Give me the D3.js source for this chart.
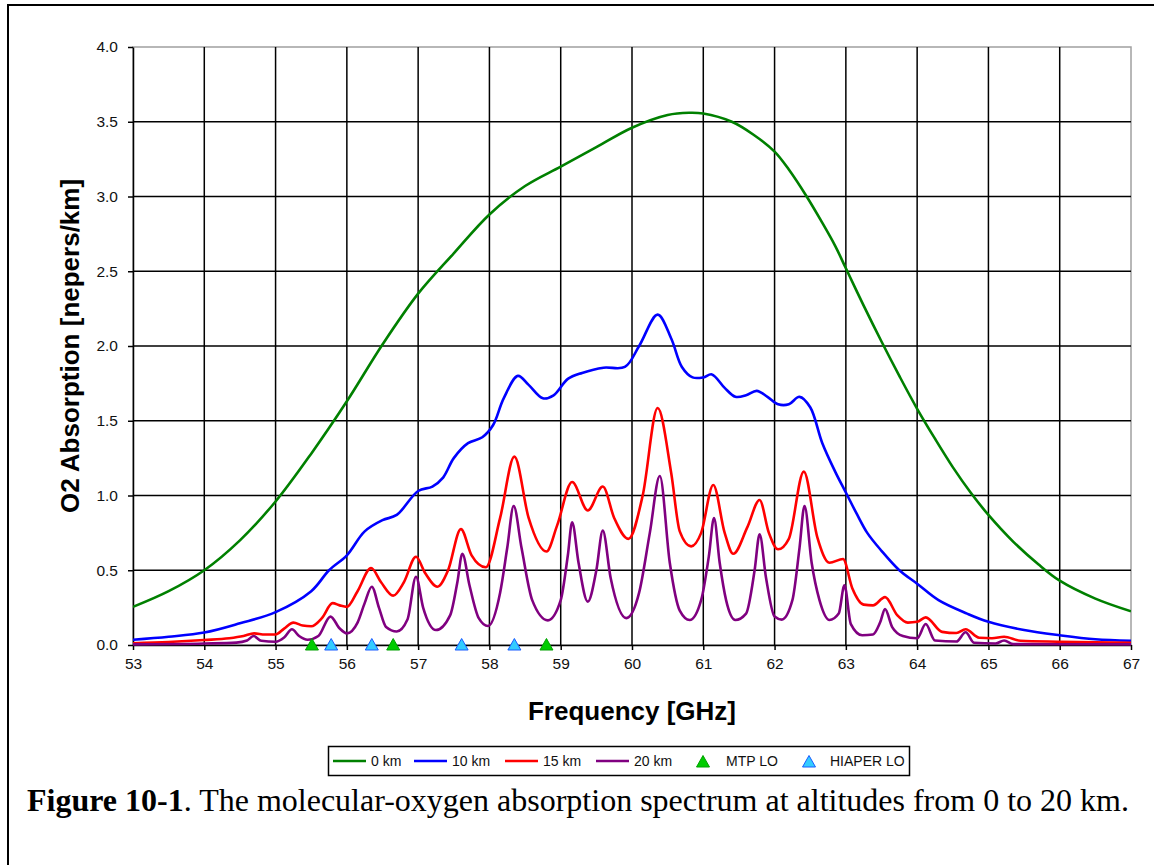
<!DOCTYPE html>
<html>
<head>
<meta charset="utf-8">
<script src="https://cdn.jsdelivr.net/npm/d3@7/dist/d3.min.js"></script>
<style>
body { margin: 0; background: #fff; }
svg { display: block; }
</style>
</head>
<body>
<svg id="chart" width="1154" height="865"></svg>
<script>
// values (GHz, nepers/km)
var f0km = [53.0, 53.5, 54.0, 54.5, 55.0, 55.5, 56.0, 56.5, 57.0, 57.5, 58.0, 58.5, 59.0, 59.5, 60.0, 60.5, 60.8, 61.0, 61.4, 61.7, 62.0, 62.2, 62.45, 62.65, 62.85, 63.0, 63.25, 63.5, 63.75, 64.0, 64.25, 64.5, 64.75, 65.0, 65.35, 65.7, 66.0, 66.5, 67.0];
var a0km = [0.255, 0.36, 0.50, 0.70, 0.96, 1.28, 1.63, 2.01, 2.35, 2.62, 2.88, 3.07, 3.20, 3.33, 3.46, 3.545, 3.56, 3.555, 3.50, 3.415, 3.30, 3.18, 3.0, 2.84, 2.67, 2.52, 2.27, 2.03, 1.80, 1.58, 1.38, 1.19, 1.02, 0.87, 0.69, 0.54, 0.43, 0.31, 0.225];

var f10km = [53.0, 53.5, 54.0, 54.5, 55.0, 55.5, 55.75, 56.0, 56.25, 56.5, 56.7, 57.0, 57.2, 57.35, 57.5, 57.7, 57.9, 58.05, 58.2, 58.4, 58.55, 58.75, 58.9, 59.1, 59.3, 59.6, 59.9, 60.1, 60.36, 60.55, 60.7, 60.85, 61.0, 61.12, 61.3, 61.45, 61.6, 61.75, 61.9, 62.05, 62.2, 62.35, 62.5, 62.67, 62.85, 63.0, 63.15, 63.3, 63.5, 63.75, 64.0, 64.3, 64.7, 65.0, 65.5, 66.0, 66.5, 67.0];
var a10km = [0.035, 0.055, 0.083, 0.145, 0.22, 0.36, 0.50, 0.60, 0.76, 0.835, 0.87, 1.03, 1.06, 1.12, 1.25, 1.35, 1.39, 1.47, 1.65, 1.80, 1.74, 1.65, 1.67, 1.78, 1.82, 1.855, 1.86, 2.0, 2.21, 2.05, 1.86, 1.79, 1.79, 1.81, 1.72, 1.66, 1.67, 1.70, 1.66, 1.61, 1.61, 1.66, 1.59, 1.35, 1.16, 1.02, 0.88, 0.75, 0.63, 0.50, 0.41, 0.30, 0.21, 0.155, 0.10, 0.065, 0.038, 0.028];

var f15km = [53.0, 53.5, 54.0, 54.35, 54.55, 54.7, 54.85, 55.0, 55.12, 55.25, 55.38, 55.5, 55.65, 55.8, 55.9, 56.0, 56.15, 56.34, 56.48, 56.65, 56.8, 56.97, 57.1, 57.27, 57.42, 57.6, 57.75, 57.95, 58.15, 58.35, 58.55, 58.8, 58.95, 59.16, 59.38, 59.59, 59.75, 59.95, 60.15, 60.36, 60.55, 60.67, 60.83, 60.97, 61.14, 61.3, 61.42, 61.62, 61.79, 61.92, 62.05, 62.2, 62.41, 62.6, 62.77, 62.96, 63.09, 63.25, 63.38, 63.55, 63.72, 63.87, 64.0, 64.12, 64.35, 64.55, 64.68, 64.87, 65.05, 65.22, 65.45, 66.0, 67.0];
var a15km = [0.012, 0.02, 0.033, 0.045, 0.06, 0.078, 0.07, 0.07, 0.11, 0.15, 0.13, 0.125, 0.18, 0.28, 0.265, 0.255, 0.36, 0.515, 0.42, 0.33, 0.42, 0.59, 0.48, 0.39, 0.50, 0.775, 0.60, 0.52, 0.85, 1.26, 0.85, 0.625, 0.80, 1.09, 0.90, 1.06, 0.85, 0.71, 1.00, 1.585, 1.15, 0.76, 0.66, 0.75, 1.07, 0.75, 0.61, 0.79, 0.97, 0.75, 0.64, 0.71, 1.16, 0.72, 0.55, 0.575, 0.38, 0.27, 0.265, 0.32, 0.20, 0.15, 0.155, 0.185, 0.088, 0.08, 0.105, 0.048, 0.045, 0.055, 0.028, 0.022, 0.014];

var f20km = [53.0, 54.0, 54.45, 54.6, 54.69, 54.8, 55.0, 55.12, 55.23, 55.33, 55.45, 55.6, 55.77, 55.9, 56.0, 56.15, 56.25, 56.35, 56.45, 56.55, 56.7, 56.85, 56.97, 57.07, 57.25, 57.45, 57.55, 57.62, 57.72, 57.85, 57.98, 58.15, 58.25, 58.34, 58.45, 58.6, 58.82, 59.0, 59.1, 59.16, 59.25, 59.38, 59.5, 59.59, 59.7, 59.92, 60.1, 60.25, 60.39, 60.53, 60.67, 60.81, 60.97, 61.08, 61.15, 61.23, 61.32, 61.45, 61.6, 61.72, 61.79, 61.88, 62.0, 62.1, 62.25, 62.35, 62.42, 62.52, 62.63, 62.77, 62.9, 62.98, 63.07, 63.23, 63.38, 63.48, 63.55, 63.65, 63.8, 64.0, 64.12, 64.25, 64.55, 64.68, 64.8, 65.1, 65.22, 65.35, 66.0, 67.0];
var a20km = [0.004, 0.01, 0.016, 0.03, 0.06, 0.028, 0.022, 0.05, 0.105, 0.06, 0.035, 0.06, 0.19, 0.11, 0.078, 0.15, 0.28, 0.39, 0.25, 0.12, 0.09, 0.17, 0.457, 0.25, 0.10, 0.20, 0.42, 0.61, 0.40, 0.18, 0.127, 0.35, 0.65, 0.93, 0.65, 0.30, 0.165, 0.30, 0.60, 0.82, 0.55, 0.29, 0.50, 0.765, 0.45, 0.18, 0.35, 0.75, 1.13, 0.55, 0.23, 0.167, 0.30, 0.60, 0.85, 0.55, 0.30, 0.167, 0.21, 0.50, 0.74, 0.45, 0.19, 0.17, 0.30, 0.65, 0.93, 0.55, 0.30, 0.167, 0.21, 0.40, 0.14, 0.065, 0.07, 0.15, 0.24, 0.12, 0.06, 0.045, 0.14, 0.03, 0.023, 0.085, 0.015, 0.01, 0.03, 0.006, 0.005, 0.004];

// local oscillator frequencies (plotted at 0)
var mtpLO = [55.51, 56.65, 58.80];
var hiaperLO = [55.78, 56.35, 57.61, 58.35];

var xTicks = [53, 54, 55, 56, 57, 58, 59, 60, 61, 62, 63, 64, 65, 66, 67];
var yTicks = [0, 0.5, 1.0, 1.5, 2.0, 2.5, 3.0, 3.5, 4.0];

var seriesNames = ["0 km", "10 km", "15 km", "20 km"];
var seriesColors = ["#008000", "#0000ff", "#ff0000", "#800080"];

var drawChart = function() {
    var svg = d3.select("#chart");
    var font = "Arial, 'Liberation Sans', sans-serif";

    var x = d3.scaleLinear().domain([53, 67]).range([133, 1131]);
    var y = d3.scaleLinear().domain([0, 4]).range([645, 47]);

    // outer frame (left + top edges show in the figure)
    svg.append("path")
        .attr("d", "M8,870 L8,5 L1160,5")
        .attr("fill", "none")
        .attr("stroke", "#000")
        .attr("stroke-width", 2);

    // plot area border
    svg.append("rect")
        .attr("x", x(53)).attr("y", y(4))
        .attr("width", x(67) - x(53)).attr("height", y(0) - y(4))
        .attr("fill", "none")
        .attr("stroke", "#a0a0a0")
        .attr("stroke-width", 1.5);

    /* grid */
    var grid = svg.append("g").attr("stroke", "#000").attr("stroke-width", 1.5);
    grid.selectAll("line.v")
        .data(xTicks.filter(function(d) { return d > 53 && d < 67; }))
        .enter().append("line")
        .attr("x1", function(d) { return x(d); })
        .attr("x2", function(d) { return x(d); })
        .attr("y1", y(4)).attr("y2", y(0));
    grid.selectAll("line.h")
        .data(yTicks.filter(function(d) { return d > 0 && d < 4; }))
        .enter().append("line")
        .attr("x1", x(53)).attr("x2", x(67))
        .attr("y1", function(d) { return y(d); })
        .attr("y2", function(d) { return y(d); });

    /* axes */
    var yAxis = svg.append("g")
        .attr("transform", "translate(" + x(53) + ",0)")
        .call(d3.axisLeft(y).tickValues(yTicks).tickFormat(d3.format(".1f"))
            .tickSizeInner(5).tickSizeOuter(0).tickPadding(10));
    var xAxis = svg.append("g")
        .attr("transform", "translate(0," + y(0) + ")")
        .call(d3.axisBottom(x).tickValues(xTicks).tickFormat(d3.format("d"))
            .tickSizeInner(5).tickSizeOuter(0).tickPadding(8));

    [xAxis, yAxis].forEach(function(a) {
        a.select(".domain").attr("stroke", "#000").attr("stroke-width", 1.5);
        a.selectAll(".tick line").attr("stroke", "#000").attr("stroke-width", 1.5);
        a.selectAll(".tick text")
            .attr("font-family", font)
            .attr("font-size", 15.5)
            .attr("fill", "#111");
    });

    /* series */
    svg.append("clipPath").attr("id", "plotclip")
        .append("rect")
        .attr("x", x(53)).attr("y", y(4))
        .attr("width", x(67) - x(53)).attr("height", y(0) - y(4) + 3);

    var series = [
        { f: f0km, a: a0km, curve: d3.curveCatmullRom.alpha(0.5) },
        { f: f10km, a: a10km, curve: d3.curveCatmullRom.alpha(0.5) },
        { f: f15km, a: a15km, curve: d3.curveMonotoneX },
        { f: f20km, a: a20km, curve: d3.curveMonotoneX }
    ];

    svg.append("g")
        .attr("clip-path", "url(#plotclip)")
        .selectAll("path")
        .data(series)
        .enter().append("path")
        .attr("d", function(s) {
            return d3.line()
                .x(function(d) { return x(d[0]); })
                .y(function(d) { return y(d[1]); })
                .curve(s.curve)(d3.zip(s.f, s.a));
        })
        .attr("fill", "none")
        .attr("stroke", function(s, i) { return seriesColors[i]; })
        .attr("stroke-width", 2.6)
        .attr("stroke-linejoin", "round");

    /* LO markers */
    var tri = function(cx, cy) {
        return "M" + cx + "," + (cy - 6.5) + " L" + (cx + 6.5) + "," + (cy + 5) + " L" + (cx - 6.5) + "," + (cy + 5) + " Z";
    };
    svg.append("g").selectAll("path")
        .data(mtpLO)
        .enter().append("path")
        .attr("d", function(d) { return tri(x(d), y(0)); })
        .attr("fill", "#00cc00")
        .attr("stroke", "#00a000")
        .attr("stroke-width", 1);
    svg.append("g").selectAll("path")
        .data(hiaperLO)
        .enter().append("path")
        .attr("d", function(d) { return tri(x(d), y(0)); })
        .attr("fill", "#33ccff")
        .attr("stroke", "#1a5cff")
        .attr("stroke-width", 1);

    /* axis titles */
    svg.append("text")
        .attr("x", (x(53) + x(67)) / 2)
        .attr("y", 720)
        .attr("text-anchor", "middle")
        .attr("font-family", font)
        .attr("font-weight", "bold")
        .attr("font-size", 26)
        .text("Frequency [GHz]");

    svg.append("text")
        .attr("transform", "translate(79," + (y(0) + y(4)) / 2 + ") rotate(-90)")
        .attr("text-anchor", "middle")
        .attr("font-family", font)
        .attr("font-weight", "bold")
        .attr("font-size", 26)
        .text("O2 Absorption [nepers/km]");

    /* legend */
    var legend = svg.append("g");
    legend.append("rect")
        .attr("x", 328.5).attr("y", 746.5)
        .attr("width", 581).attr("height", 29)
        .attr("fill", "#fff")
        .attr("stroke", "#000")
        .attr("stroke-width", 1.5);

    var lineX = [333, 414, 505, 596];
    seriesNames.forEach(function(name, i) {
        legend.append("line")
            .attr("x1", lineX[i]).attr("x2", lineX[i] + 33)
            .attr("y1", 761).attr("y2", 761)
            .attr("stroke", seriesColors[i])
            .attr("stroke-width", 2.6);
        legend.append("text")
            .attr("x", lineX[i] + 38).attr("y", 766)
            .attr("font-family", font)
            .attr("font-size", 14)
            .attr("fill", "#111")
            .text(name);
    });
    legend.append("path").attr("d", tri(703, 762)).attr("fill", "#00cc00").attr("stroke", "#00a000");
    legend.append("text").attr("x", 726).attr("y", 766)
        .attr("font-family", font).attr("font-size", 14).attr("fill", "#111").text("MTP LO");
    legend.append("path").attr("d", tri(809, 762)).attr("fill", "#33ccff").attr("stroke", "#1a5cff");
    legend.append("text").attr("x", 830).attr("y", 766)
        .attr("font-family", font).attr("font-size", 14).attr("fill", "#111").text("HIAPER LO");

    /* caption */
    var cap = svg.append("text")
        .attr("x", 27).attr("y", 811)
        .attr("font-family", "'Times New Roman', 'Liberation Serif', serif")
        .attr("font-size", 32)
        .attr("fill", "#000");
    cap.append("tspan").attr("font-weight", "bold").text("Figure 10-1");
    cap.append("tspan").text(". The molecular-oxygen absorption spectrum at altitudes from 0 to 20 km.");
};

drawChart();
</script>
</body>
</html>
